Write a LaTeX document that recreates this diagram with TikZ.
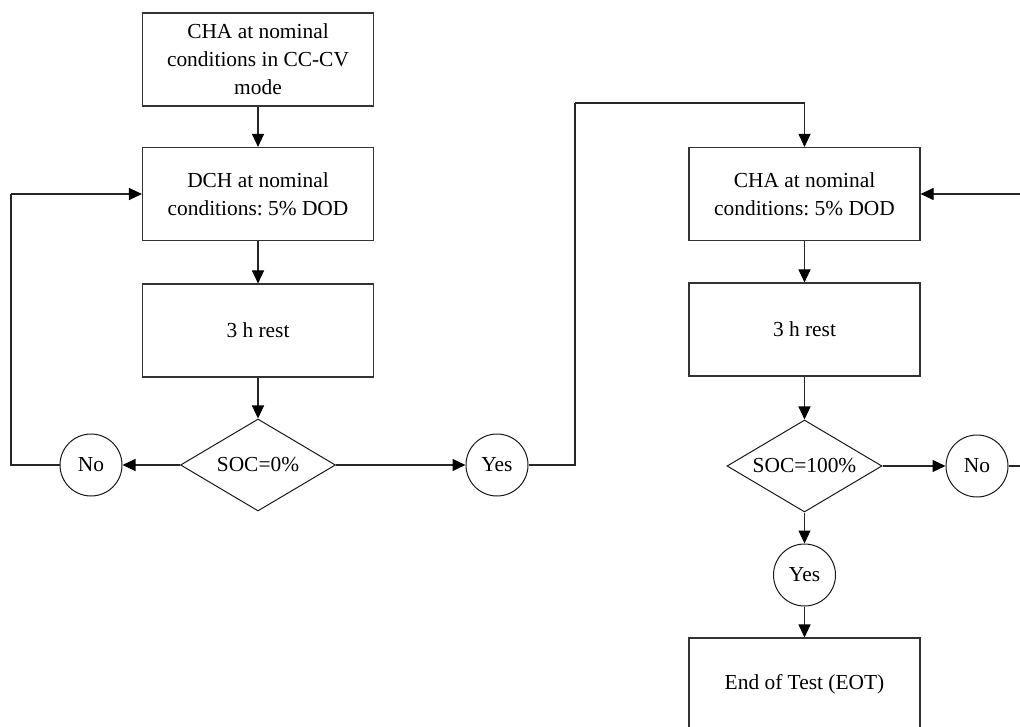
\documentclass[tikz,border=0pt]{standalone}
\usepackage{fontspec}
\setmainfont{Liberation Serif}
\frenchspacing
\usetikzlibrary{shapes.geometric,arrows.meta}

\tikzset{
  every node/.style={font=\fontsize{21.4}{28}\selectfont, text=black},
  stepbox/.style={draw=black!80, line width=1.1pt, rectangle, inner sep=0pt,
    minimum width=231pt, minimum height=93pt, align=center},
  decision/.style={draw=black!90, line width=1pt, diamond, aspect=1.7, inner sep=0pt,
    minimum width=155pt, minimum height=92pt},
  answer/.style={draw=black!90, line width=1pt, circle, inner sep=0pt, minimum size=62pt},
  flow/.style={draw=black!85, line width=1.1pt,
    -{Triangle[length=13pt,width=12pt,fill=black,color=black]}},
  wire/.style={draw=black!85, line width=1.1pt}
}

\begin{document}
\begin{tikzpicture}[x=1pt,y=-1pt]
  \useasboundingbox (0,0) rectangle (1020,727);
  \clip (0,0) rectangle (1020,727);

  % discharge branch
  \node[stepbox] (b1) at (258,59.5) {CHA at nominal\\conditions in CC-CV\\mode};
  \node[stepbox] (b2) at (258,194) {DCH at nominal\\conditions: 5\% DOD};
  \node[stepbox] (b3) at (258,330.5) {3 h rest};
  \node[decision] (d1) at (258,465) {SOC=0\%};
  \node[answer] (no1) at (91,465) {No};
  \node[answer] (yes1) at (497,465) {Yes};

  % charge branch
  \node[stepbox] (c1) at (804.5,194) {CHA at nominal\\conditions: 5\% DOD};
  \node[stepbox] (c2) at (804.5,329.5) {3 h rest};
  \node[decision] (d2) at (804.5,466) {SOC=100\%};
  \node[answer] (no2) at (977,466) {No};
  \node[answer] (yes2) at (804.5,575) {Yes};
  \node[stepbox] (eot) at (804.5,684.5) {End of Test (EOT)};

  % corner points of the loops
  \coordinate (lc) at (11,194);
  \coordinate (tl) at (575,103);
  \coordinate (rc) at (1021,194);

  % connectors
  \draw[flow] (b1) -- (b2);
  \draw[flow] (b2) -- (b3);
  \draw[flow] (b3) -- (d1);
  \draw[flow] (d1) -- (no1);
  \draw[flow] (d1) -- (yes1);
  \draw[wire] (no1.west) -| (lc);
  \draw[flow] (lc) -- (b2.west);
  \draw[wire] (yes1.east) -| (tl);
  \draw[flow] (tl) -| (c1.north);

  \draw[flow] (c1) -- (c2);
  \draw[flow] (c2) -- (d2);
  \draw[flow] (d2) -- (no2);
  \draw[flow] (d2) -- (yes2);
  \draw[flow] (yes2) -- (eot);
  \draw[wire] (no2.east) -| (rc);
  \draw[flow] (rc) -- (c1.east);
\end{tikzpicture}
\end{document}
